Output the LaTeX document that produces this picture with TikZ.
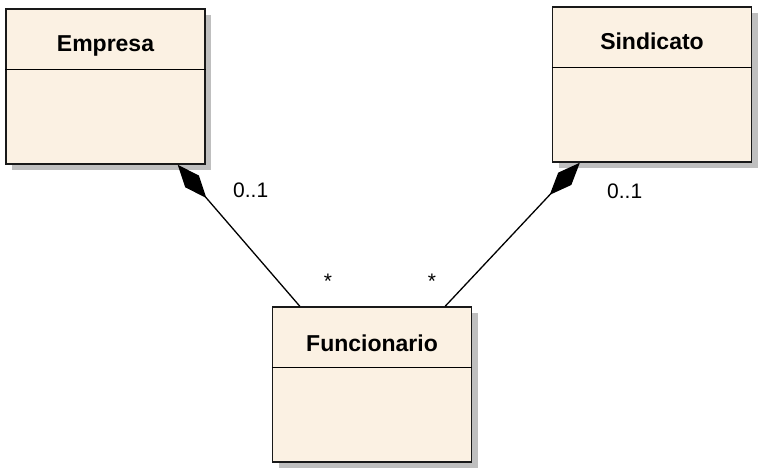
\documentclass[tikz,border=0pt]{standalone}
\usepackage{fontspec}
\setmainfont{Liberation Sans}
\usetikzlibrary{positioning}
\usetikzlibrary{calc, shadows, arrows.meta}
\definecolor{bege}{RGB}{251,241,227}
\tikzset{
  classe/.style={rectangle, draw=black!90, line width=1.5pt, fill=bege,
    minimum width=199pt, minimum height=155pt, inner sep=0pt,
    drop shadow={shadow xshift=6pt, shadow yshift=-6pt, fill=black!25, opacity=1}},
  nome/.style={anchor=base, font=\fontsize{23}{27}\selectfont\bfseries, inner sep=0pt},
  mult/.style={anchor=base west, font=\fontsize{21}{25}\selectfont, inner sep=0pt},
  comp/.style={line width=1.3pt, {Diamond[length=44pt, width=18pt]}-}
}
\begin{document}
\begin{tikzpicture}[x=1pt,y=-1pt]
\useasboundingbox (0,0) rectangle (762,472);
\node[classe] (emp) at (105.5,86.5) {};
\node[classe] (sin) at (652,84.5) {};
\node[classe] (fun) at (372,384.5) {};

\draw[line width=1.5pt] ($(emp.north west)+(0,61)$) -- ($(emp.north east)+(0,61)$);
\draw[line width=1.5pt] ($(sin.north west)+(0,61)$) -- ($(sin.north east)+(0,61)$);
\draw[line width=1.5pt] ($(fun.north west)+(0,61)$) -- ($(fun.north east)+(0,61)$);

\node[nome] (empnome) at ($(emp.north)+(0,43)$) {Empresa};
\node[nome] (sinnome) at ($(sin.north)+(0,43)$) {Sindicato};
\node[nome] (funnome) at ($(fun.north)+(0,45)$) {Funcionario};

\draw[comp] ($(emp.south west)!.86!(emp.south east)$) -- ($(fun.north west)!.14!(fun.north east)$);
\draw[comp] ($(sin.south west)!.14!(sin.south east)$) -- ($(fun.north west)!.865!(fun.north east)$);

\node[mult] (empmult) at (233,197) {0..1};
\node[mult] (sinmult) at (607,198) {0..1};
\node[mult, anchor=base] (funmult1) at (328,288) {*};
\node[mult, anchor=base] (funmult2) at (432,288) {*};
\end{tikzpicture}
\end{document}
